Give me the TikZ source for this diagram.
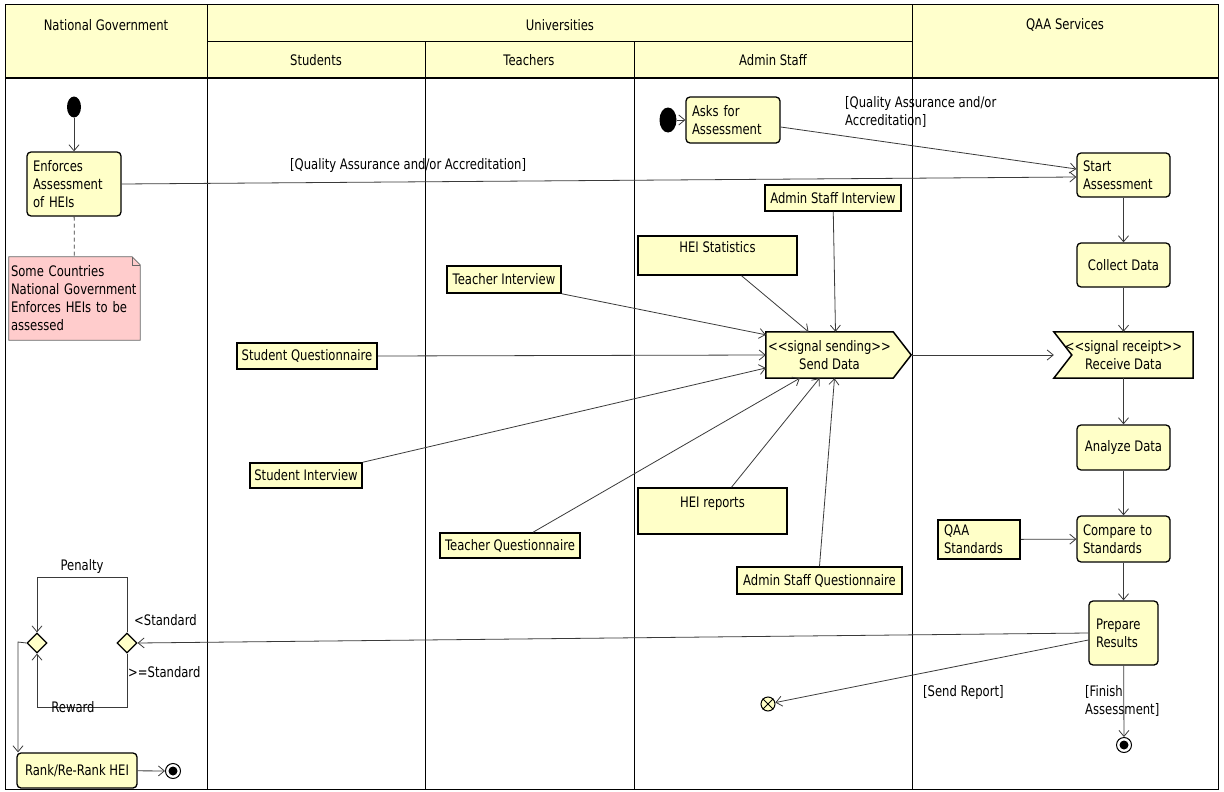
\documentclass[tikz,border=0pt]{standalone}
\usepackage{fontspec}
\setmainfont{DejaVu Sans}[FakeStretch=0.8]
\usetikzlibrary{arrows.meta,shapes.geometric,calc}
\pgfdeclarelayer{bg}
\pgfsetlayers{bg,main}
\definecolor{lanefill}{HTML}{FFFFCC}
\definecolor{nodefill}{HTML}{FFFFC8}
\definecolor{notefill}{HTML}{FFCCCC}
\definecolor{linec}{HTML}{3A3A3A}
\begin{document}
\begin{tikzpicture}[x=1pt,y=-1pt, font=\fontsize{14.5}{18}\selectfont,
  act/.style={draw=black, line width=1.3pt, fill=nodefill, rounded corners=4pt, inner xsep=6pt, inner ysep=0pt},
  obj/.style={draw=black, line width=1.5pt, fill=nodefill, inner sep=0pt, align=center},
  flow/.style={draw=linec, line width=0.8pt, -{Straight Barb[length=6pt,width=10pt]}},
  plain/.style={draw=linec, line width=0.8pt},
  lbl/.style={inner sep=0pt, align=left, anchor=west},
  lane/.style={draw=black, line width=1pt},
  initnode/.style={ellipse, fill=black, inner sep=0pt},
  endnode/.style={circle, draw=black, line width=1pt, fill=white, minimum size=15pt, inner sep=0pt},
  choice/.style={diamond, draw=black, fill=nodefill, line width=1.2pt, minimum width=20pt, minimum height=20pt, inner sep=0pt},
  hdr/.style={inner sep=0pt}
]
\useasboundingbox (0,0) rectangle (1224,792);
% swimlanes
\fill[lanefill] (5,5) rectangle (1218,78);
\draw[lane] (5,5) rectangle (1218,789);
\draw[lane] (207,42) -- (912,42);
\draw[lane, line width=1.6pt] (5,78) -- (1218,78);
\draw[lane] (207,5) -- (207,789);
\draw[lane] (425,42) -- (425,789);
\draw[lane] (634,42) -- (634,789);
\draw[lane] (912,5) -- (912,789);
\node[hdr] (hng) at (106,25) {National Government};
\node[hdr] (huni) at (560,25) {Universities};
\node[hdr] (hqaa) at (1065,25) {QAA Services};
\node[hdr] (hstu) at (316,60) {Students};
\node[hdr] (htea) at (529,60) {Teachers};
\node[hdr] (hadm) at (773,60) {Admin Staff};

% National Government
\node[initnode, minimum width=14pt, minimum height=21pt] (i1) at (74,107) {};
\node[act, text width=82pt, minimum height=64pt, align=left] (enf) at (74,184) {Enforces\\Assessment\\of HEIs};
\node[inner xsep=2pt, inner ysep=0pt, text width=127pt, minimum height=83pt, align=left] (note) at (74.5,298.5) {Some Countries\\National Government\\Enforces HEIs to be\\assessed};
\begin{pgfonlayer}{bg}
\path[fill=notefill, draw=black!60, line width=0.8pt] (note.north west) -- ([xshift=-8pt]note.north east) -- ([yshift=-8pt]note.north east) -- (note.south east) -- (note.south west) -- cycle;
\draw[black!60, line width=0.6pt] ([xshift=-8pt]note.north east) -- ([xshift=-8pt,yshift=-8pt]note.north east) -- ([yshift=-8pt]note.north east);
\end{pgfonlayer}
\node[choice] (d1) at (37,643) {};
\node[choice] (d2) at (127,643) {};
\node[act, minimum width=120pt, minimum height=35pt, align=center] (rank) at (77,770.5) {Rank/Re-Rank HEI};
\node[endnode] (f1) at (173,771) {};
\fill (f1.center) circle (4.5pt);

% Admin staff
\node[initnode, minimum width=17pt, minimum height=25pt] (i2) at (668,120) {};
\node[act, text width=82pt, minimum height=46pt, align=left] (asks) at (733,120) {Asks for\\Assessment};

% Objects
\node[obj, minimum width=136pt, minimum height=26pt] (asi) at (833,198) {Admin Staff Interview};
\node[obj, minimum width=159pt, minimum height=39pt] (heistat) at (717.5,255.5) {HEI Statistics\\\mbox{}};
\node[obj, minimum width=114pt, minimum height=27pt] (ti) at (504,279.5) {Teacher Interview};
\node[obj, minimum width=140pt, minimum height=26pt] (sq) at (307,356) {Student Questionnaire};
\node[obj, minimum width=112pt, minimum height=25pt] (si) at (306,475.5) {Student Interview};
\node[obj, minimum width=140pt, minimum height=25pt] (tq) at (510,545.5) {Teacher Questionnaire};
\node[obj, minimum width=149pt, minimum height=46pt] (heir) at (712.5,511) {HEI reports\\\mbox{}};
\node[obj, minimum width=165pt, minimum height=27pt] (asq) at (819.5,580.5) {Admin Staff Questionnaire};

% Send data
\node[inner sep=0pt, minimum width=127pt, minimum height=46pt, align=center] (send) at (829.5,355) {<{}<signal sending>{}>\\Send Data};
\coordinate (sendtip) at ($(send.east)+(18,0)$);
\begin{pgfonlayer}{bg}
\path[fill=nodefill, draw=black, line width=1.5pt] (send.north west) -- (send.north east) -- (sendtip) -- (send.south east) -- (send.south west) -- cycle;
\end{pgfonlayer}

% QAA
\node[act, text width=81pt, minimum height=44pt, align=left] (start) at (1123.5,175) {Start\\Assessment};
\node[act, minimum width=93pt, minimum height=44pt, align=center] (collect) at (1123.5,265) {Collect Data};
\node[inner sep=0pt, minimum width=139pt, minimum height=46pt, align=center] (recv) at (1123.5,355) {<{}<signal receipt>{}>\\Receive Data};
\begin{pgfonlayer}{bg}
\path[fill=nodefill, draw=black, line width=1.5pt] (recv.north west) -- (recv.north east) -- (recv.south east) -- (recv.south west) -- ($(recv.west)+(18,0)$) -- cycle;
\end{pgfonlayer}
\node[act, minimum width=93pt, minimum height=45pt, align=center] (analyze) at (1123.5,447.5) {Analyze Data};
\node[act, text width=81pt, minimum height=46pt, align=left] (compare) at (1123.5,539) {Compare to\\Standards};
\node[obj, inner xsep=6pt, text width=70pt, minimum height=39pt, align=left] (qaastd) at (979,539.5) {QAA\\Standards};
\node[act, text width=55pt, inner xsep=7pt, minimum height=64pt, align=left] (prepare) at (1123.5,633) {Prepare\\Results};
\node[endnode] (f2) at (1124,745) {};
\fill (f2.center) circle (4.5pt);
\node[circle, draw=black, fill=nodefill, line width=1pt, minimum size=14pt, inner sep=0pt] (ff) at (768,704) {};
\draw[line width=0.8pt] (ff.45) -- (ff.225) (ff.135) -- (ff.315);

% connectors
\draw[flow] (i1) -- (enf);
\draw[plain, dash pattern=on 4pt off 3pt] (enf) -- (note);
\draw[flow] (enf.east) -- ([yshift=-2pt]start.west);
\node[lbl] (lq1) at (290,165) {[Quality Assurance and/or Accreditation]};
\draw[flow] (i2) -- (asks);
\draw[flow] ([yshift=-7pt]asks.east) -- ([yshift=6pt]start.west);
\node[lbl] (lq2) at (845,111.5) {[Quality Assurance and/or\\Accreditation]};
\draw[flow] (start) -- (collect);
\draw[flow] (collect) -- (recv);
\draw[flow] (recv) -- (analyze);
\draw[flow] (analyze) -- (compare);
\draw[flow] (compare) -- (prepare);
\draw[flow] (qaastd) -- (compare);
\draw[flow] (prepare) -- (f2);
\draw[flow] (prepare.west) -- (d2.east);
\draw[flow] ([yshift=-7pt]prepare.west) -- (ff);
\draw[flow] (d2.north) -- ++(0,-55) -| (d1.north);
\draw[flow] (d2.south) -- ++(0,54) -| (d1.south);
\coordinate (c1) at (18,642);
\draw[flow] (d1.west) -- (c1) -- (c1 |- rank.north);
\draw[flow] (rank) -- (f1);

\draw[flow] (asi) -- ([xshift=6pt]send.north);
\draw[flow] ([xshift=24pt]heistat.south) -- ([xshift=-21pt]send.north);
\draw[flow] (ti.south east) -- ([yshift=-3pt]send.north west);
\draw[flow] (sq.east) -- (send.west);
\draw[flow] (si.north east) -- ([yshift=-13pt]send.west);
\draw[flow] ([xshift=23pt]tq.north) -- ([xshift=34pt]send.south west);
\draw[flow] ([xshift=19pt]heir.north) -- ([xshift=-10pt]send.south);
\draw[flow] (asq.north) -- ([xshift=5pt]send.south);
\draw[flow] (sendtip) -- (recv.west);

% labels
\node[hdr] (lpen) at (82,566) {Penalty};
\node[hdr] (lrew) at (73,707) {Reward};
\node[lbl] (lstd1) at (134,620) {<Standard};
\node[lbl] (lstd2) at (128,672) {>=Standard};
\node[lbl] (lsend) at (923,692) {[Send Report]};
\node[lbl] (lfin) at (1085,701) {[Finish\\Assessment]};
\end{tikzpicture}
\end{document}
